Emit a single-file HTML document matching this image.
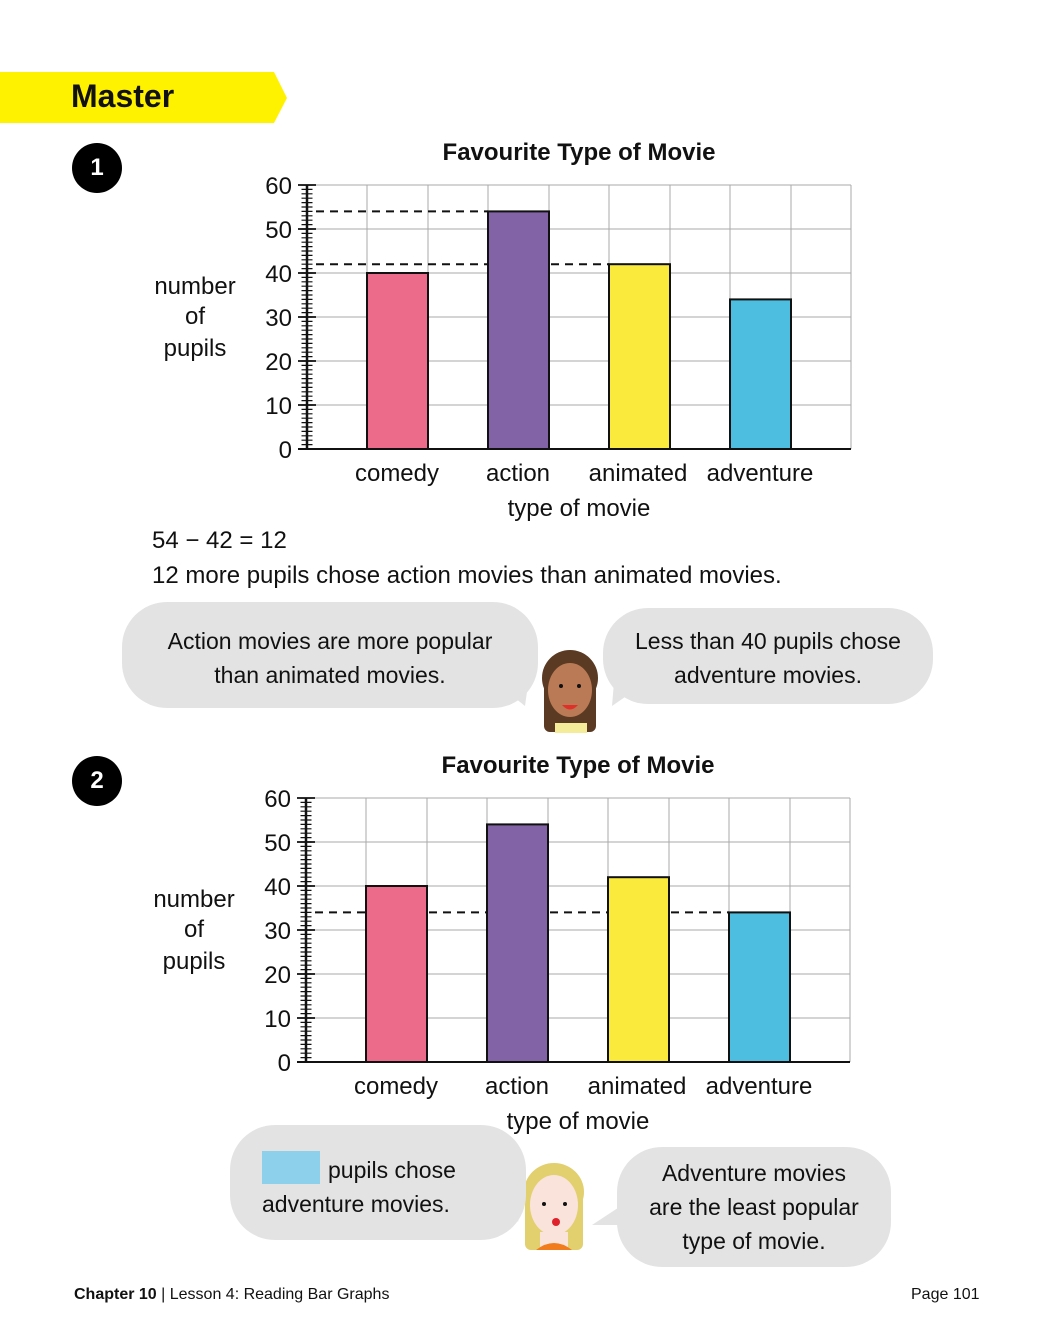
<!DOCTYPE html>
<html><head><meta charset="utf-8"><style>
body{margin:0;width:1040px;height:1330px;background:#fff;font-family:"Liberation Sans",sans-serif;position:relative;overflow:hidden;color:#111}
.abs{position:absolute}
.num{width:50px;height:50px;border-radius:50%;background:#000;color:#fff;font-weight:bold;font-size:24px;text-align:center;line-height:50px}
.bub{position:absolute;background:#e3e3e3;border-radius:45px;text-align:center;font-size:23px;line-height:34px;color:#111}
</style></head><body>
<svg class="abs" style="left:0;top:72px" width="290" height="52"><polygon points="0,0 274,0 287,26 274,51 0,51" fill="#fff200"/></svg>
<div class="abs" style="left:71px;top:78px;font-size:32px;font-weight:bold">Master</div>
<div class="abs num" style="left:72px;top:143px">1</div>
<div class="abs num" style="left:72px;top:756px">2</div>

<svg class="abs" style="left:0;top:0" width="1040" height="1330" font-family="Liberation Sans, sans-serif">
<defs>
<g id="grid">
 <g stroke="#aaa" stroke-width="1">
  <line x1="307" y1="185" x2="851" y2="185"/><line x1="307" y1="229" x2="851" y2="229"/><line x1="307" y1="273" x2="851" y2="273"/><line x1="307" y1="317" x2="851" y2="317"/><line x1="307" y1="361" x2="851" y2="361"/><line x1="307" y1="405" x2="851" y2="405"/>
  <line x1="367" y1="185" x2="367" y2="449"/><line x1="428" y1="185" x2="428" y2="449"/><line x1="488" y1="185" x2="488" y2="449"/><line x1="549" y1="185" x2="549" y2="449"/><line x1="609" y1="185" x2="609" y2="449"/><line x1="670" y1="185" x2="670" y2="449"/><line x1="730" y1="185" x2="730" y2="449"/><line x1="791" y1="185" x2="791" y2="449"/><line x1="851" y1="185" x2="851" y2="449"/>
 </g>
 <line x1="307" y1="449.6" x2="307" y2="185" stroke="#111" stroke-width="11" stroke-dasharray="1.2 3.2"/>
 <line x1="307" y1="449.9" x2="307" y2="184" stroke="#111" stroke-width="18" stroke-dasharray="1.8 42.2"/>
 <line x1="307" y1="185" x2="307" y2="449" stroke="#111" stroke-width="2.5"/>
 <line x1="298" y1="449" x2="851" y2="449" stroke="#111" stroke-width="2"/>
 <g font-size="24" text-anchor="end" fill="#111">
  <text x="292" y="194">60</text><text x="292" y="238">50</text><text x="292" y="282">40</text><text x="292" y="326">30</text><text x="292" y="370">20</text><text x="292" y="414">10</text><text x="292" y="458">0</text>
 </g>
 <g font-size="24" text-anchor="middle" fill="#111">
  <text x="397" y="481">comedy</text><text x="518" y="481">action</text><text x="638" y="481">animated</text><text x="760" y="481">adventure</text>
  <text x="579" y="516">type of movie</text>
  <text x="195" y="294">number</text><text x="195" y="324">of</text><text x="195" y="356">pupils</text>
  <text x="579" y="160" font-weight="bold">Favourite Type of Movie</text>
 </g>
</g>
</defs>
<use href="#grid"/>
<g stroke="#111" stroke-width="2">
 <rect x="367" y="273" width="61" height="176" fill="#ec6a8a"/>
 <rect x="488" y="211.4" width="61" height="237.6" fill="#8163a6"/>
 <rect x="609" y="264.2" width="61" height="184.8" fill="#f9ea3c"/>
 <rect x="730" y="299.4" width="61" height="149.6" fill="#4dbde0"/>
</g>
<g stroke="#111" stroke-width="2" stroke-dasharray="8 6">
 <line x1="316" y1="211.4" x2="488" y2="211.4"/><line x1="316" y1="264.2" x2="488" y2="264.2"/><line x1="551" y1="264.2" x2="609" y2="264.2"/>
</g>
<g transform="translate(-1,613)">
<use href="#grid"/>
<g stroke="#111" stroke-width="2" stroke-dasharray="8 6">
 <line x1="316" y1="299.4" x2="367" y2="299.4"/><line x1="430" y1="299.4" x2="488" y2="299.4"/><line x1="551" y1="299.4" x2="609" y2="299.4"/><line x1="672" y1="299.4" x2="730" y2="299.4"/>
</g>
<g stroke="#111" stroke-width="2">
 <rect x="367" y="273" width="61" height="176" fill="#ec6a8a"/>
 <rect x="488" y="211.4" width="61" height="237.6" fill="#8163a6"/>
 <rect x="609" y="264.2" width="61" height="184.8" fill="#f9ea3c"/>
 <rect x="730" y="299.4" width="61" height="149.6" fill="#4dbde0"/>
</g>
</g>
<polygon points="505,690 525,706 530,670" fill="#e3e3e3"/>
<polygon points="635,690 612,706 615,670" fill="#e3e3e3"/>
<polygon points="505,1195 518,1222 525,1185" fill="#e3e3e3"/>
<polygon points="630,1200 592,1225 630,1225" fill="#e3e3e3"/>
<rect x="544" y="668" width="52" height="64" rx="6" fill="#5a3a22"/>
<ellipse cx="570" cy="678" rx="28" ry="28" fill="#5a3a22"/>
<ellipse cx="570" cy="690" rx="22" ry="27" fill="#b97a55"/>
<rect x="555" y="723" width="32" height="10" fill="#f5ec9a"/>
<circle cx="561" cy="686" r="2" fill="#111"/><circle cx="579" cy="686" r="2" fill="#111"/>
<path d="M562 705 Q570 714 578 705Z" fill="#e0302a"/>
<rect x="525" y="1180" width="58" height="70" rx="6" fill="#e2cf6e"/>
<ellipse cx="554" cy="1192" rx="30" ry="29" fill="#e2cf6e"/>
<ellipse cx="554" cy="1205" rx="24" ry="30" fill="#f9e3da"/>
<rect x="540" y="1232" width="28" height="18" fill="#f9e3da"/>
<path d="M536 1250 Q554 1236 572 1250Z" fill="#f07c1e"/>
<circle cx="544" cy="1204" r="2" fill="#111"/><circle cx="565" cy="1204" r="2" fill="#111"/>
<circle cx="556" cy="1222" r="4" fill="#e0202a"/>
</svg>

<div class="abs" style="left:152px;top:527px;font-size:24px">54 − 42 = 12</div>
<div class="abs" style="left:152px;top:562px;font-size:24px">12 more pupils chose action movies than animated movies.</div>

<div class="bub" style="left:122px;top:602px;width:416px;height:106px;padding-top:22px;box-sizing:border-box">Action movies are more popular<br>than animated movies.</div>
<div class="bub" style="left:603px;top:608px;width:330px;height:96px;padding-top:16px;box-sizing:border-box">Less than 40 pupils chose<br>adventure movies.</div>

<div class="bub" style="left:230px;top:1125px;width:296px;height:115px;padding-top:26px;box-sizing:border-box;text-align:left;padding-left:32px"><span style="display:inline-block;width:58px;height:33px;background:#8dd0eb;vertical-align:-6px;margin-right:8px"></span>pupils chose<br>adventure movies.</div>
<div class="bub" style="left:617px;top:1147px;width:274px;height:120px;padding-top:9px;box-sizing:border-box">Adventure movies<br>are the least popular<br>type of movie.</div>

<div class="abs" style="left:74px;top:1286px;font-size:16px"><b>Chapter 10</b> | Lesson 4: Reading Bar Graphs</div>
<div class="abs" style="left:911px;top:1286px;font-size:16px">Page 101</div>
</body></html>
